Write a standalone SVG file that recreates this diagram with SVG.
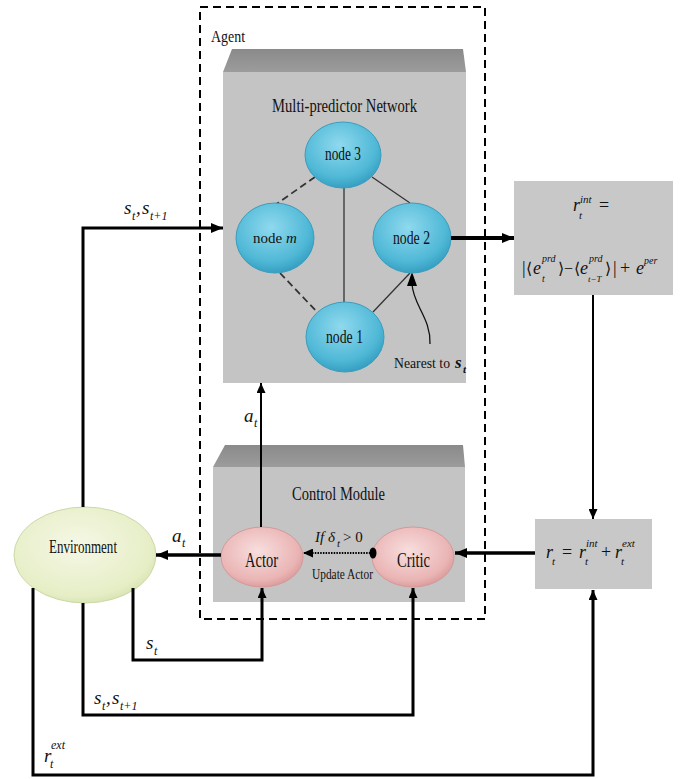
<svg xmlns="http://www.w3.org/2000/svg" width="686" height="779" viewBox="0 0 686 779">
<defs>
<style>
.lbl{font-family:"Liberation Serif","Times New Roman",serif;fill:#111;}
.m{font-family:"Liberation Serif","Times New Roman",serif;font-style:italic;fill:#111;}
.up{font-style:normal;}
.front{fill:#c4c4c4;}
.box{fill:#c8c8c8;}
.conn{fill:none;stroke:#000;stroke-linejoin:miter;}
.nedge{stroke:#333;stroke-width:1.3;fill:none;}
.ndash{stroke:#333;stroke-width:1.8;stroke-dasharray:7,4;fill:none;}
</style>
<radialGradient id="gBlue" cx="0.45" cy="0.35" r="0.7">
<stop offset="0" stop-color="#8fd9ee"/><stop offset="0.7" stop-color="#4fb8d6"/><stop offset="1" stop-color="#2f97bb"/>
</radialGradient>
<radialGradient id="gPink" cx="0.45" cy="0.4" r="0.7">
<stop offset="0" stop-color="#f8dede"/><stop offset="0.7" stop-color="#eab4b4"/><stop offset="1" stop-color="#cf8a8a"/>
</radialGradient>
<radialGradient id="gGreen" cx="0.45" cy="0.4" r="0.7">
<stop offset="0" stop-color="#f5f8e6"/><stop offset="0.75" stop-color="#e6eec6"/><stop offset="1" stop-color="#cddca2"/>
</radialGradient>
<linearGradient id="gTop" x1="0" y1="0" x2="0" y2="1">
<stop offset="0" stop-color="#8a8a8a"/><stop offset="1" stop-color="#9c9c9c"/>
</linearGradient>
<marker id="ah" markerUnits="userSpaceOnUse" markerWidth="12" markerHeight="10" refX="12" refY="5" orient="auto">
<path d="M0,0 L12,5 L0,10 z" fill="#000"/>
</marker>
<marker id="ahs" markerUnits="userSpaceOnUse" markerWidth="10" markerHeight="9" refX="10" refY="4.5" orient="auto">
<path d="M0,0 L10,4.5 L0,9 z" fill="#000"/>
</marker>
</defs>

<rect width="686" height="779" fill="#fff"/>

<g id="agent">
<rect x="200" y="7" width="285" height="612" fill="none" stroke="#000" stroke-width="2" stroke-dasharray="8,5"/>
<text class="lbl" x="211" y="42" font-size="17" textLength="34" lengthAdjust="spacingAndGlyphs">Agent</text>
</g>

<g id="multi-predictor">
<polygon points="232,49 463,49 466,72 223,72" fill="url(#gTop)"/>
<rect class="front" x="223" y="72" width="243" height="311"/>
<text class="lbl" x="272" y="112" font-size="19" textLength="145" lengthAdjust="spacingAndGlyphs">Multi-predictor Network</text>
</g>

<g id="control-module">
<polygon points="225,445 463,445 465,467 213,467" fill="url(#gTop)"/>
<rect class="front" x="213" y="467" width="252" height="135"/>
<text class="lbl" x="292" y="500" font-size="18" textLength="93" lengthAdjust="spacingAndGlyphs">Control Module</text>
</g>

<g id="node-edges">
<line class="ndash" x1="315" y1="177" x2="275" y2="205"/>
<line class="ndash" x1="280" y1="273" x2="318" y2="313"/>
<line class="nedge" x1="344" y1="187" x2="344" y2="303"/>
<line class="nedge" x1="372" y1="177" x2="410" y2="203"/>
<line class="nedge" x1="373" y1="312" x2="410" y2="273"/>
<path d="M430,344 C431,318 413,305 412,284" fill="none" stroke="#111" stroke-width="1.3"/>
<path d="M407,286 L412,272 L417,286 z" fill="#000"/>
</g>

<g id="node3">
<ellipse cx="343" cy="155" rx="38" ry="33" fill="url(#gBlue)" stroke="#3a9dbd" stroke-width="1"/>
<text class="lbl" x="325" y="160" font-size="18" textLength="36" lengthAdjust="spacingAndGlyphs">node 3</text>
</g>
<g id="nodem">
<ellipse cx="275" cy="238" rx="39" ry="35" fill="url(#gBlue)" stroke="#3a9dbd" stroke-width="1"/>
<text class="lbl" x="275" y="243" font-size="15" text-anchor="middle">node <tspan font-style="italic">m</tspan></text>
</g>
<g id="node2">
<ellipse cx="412" cy="238" rx="39" ry="35" fill="url(#gBlue)" stroke="#3a9dbd" stroke-width="1"/>
<text class="lbl" x="393" y="244" font-size="18" textLength="37" lengthAdjust="spacingAndGlyphs">node 2</text>
</g>
<g id="node1">
<ellipse cx="345" cy="337" rx="39" ry="35" fill="url(#gBlue)" stroke="#3a9dbd" stroke-width="1"/>
<text class="lbl" x="326" y="343" font-size="18" textLength="37" lengthAdjust="spacingAndGlyphs">node 1</text>
</g>

<g id="nearest-label">
<text class="lbl" x="394" y="368" font-size="15" textLength="56" lengthAdjust="spacingAndGlyphs">Nearest to</text>
<text class="m" x="455" y="368" font-size="17" font-weight="bold">s</text>
<text class="m" x="463" y="373" font-size="11" font-weight="bold">t</text>
</g>

<g id="r-int">
<rect class="box" x="514" y="181" width="159" height="114"/>
<text class="m" x="573" y="211" font-size="18">r</text>
<text class="m" x="580" y="203" font-size="11">int</text>
<text class="m" x="579" y="219" font-size="11">t</text>
<text class="m up" x="599" y="211" font-size="18">=</text>
<text class="m up" x="522" y="274" font-size="18">|</text>
<text class="m up" x="526" y="274" font-size="16">⟨</text>
<text class="m" x="533" y="274" font-size="18">e</text>
<text class="m" x="542" y="262" font-size="10">prd</text>
<text class="m" x="542" y="282" font-size="10">t</text>
<text class="m up" x="558" y="274" font-size="16">⟩</text>
<text class="m up" x="564" y="274" font-size="16">−</text>
<text class="m up" x="574" y="274" font-size="16">⟨</text>
<text class="m" x="580" y="274" font-size="18">e</text>
<text class="m" x="589" y="262" font-size="10">prd</text>
<text class="m" x="588" y="282" font-size="9">t−T</text>
<text class="m up" x="605" y="274" font-size="16">⟩</text>
<text class="m up" x="613" y="274" font-size="18">|</text>
<text class="m up" x="620" y="274" font-size="18">+</text>
<text class="m" x="636" y="274" font-size="18">e</text>
<text class="m" x="644" y="264" font-size="10">per</text>
</g>

<g id="r-total">
<rect class="box" x="535" y="519" width="117" height="70"/>
<text class="m" x="546" y="558" font-size="18">r</text>
<text class="m" x="552" y="565" font-size="11">t</text>
<text class="m up" x="562" y="558" font-size="18">=</text>
<text class="m" x="579" y="558" font-size="18">r</text>
<text class="m" x="586" y="547" font-size="11">int</text>
<text class="m" x="585" y="565" font-size="11">t</text>
<text class="m up" x="601" y="558" font-size="18">+</text>
<text class="m" x="615" y="558" font-size="18">r</text>
<text class="m" x="622" y="547" font-size="11">ext</text>
<text class="m" x="621" y="565" font-size="11">t</text>
</g>

<g id="actor">
<ellipse cx="262" cy="557" rx="41" ry="30" fill="url(#gPink)" stroke="#d39a9a" stroke-width="1"/>
<text class="lbl" x="245" y="567" font-size="20" textLength="33" lengthAdjust="spacingAndGlyphs">Actor</text>
</g>
<g id="critic">
<ellipse cx="413" cy="557" rx="41" ry="30" fill="url(#gPink)" stroke="#d39a9a" stroke-width="1"/>
<text class="lbl" x="397" y="567" font-size="20" textLength="33" lengthAdjust="spacingAndGlyphs">Critic</text>
</g>

<g id="environment">
<ellipse cx="85" cy="555" rx="71" ry="48" fill="url(#gGreen)" stroke="#cbd8a8" stroke-width="1"/>
<text class="lbl" x="49" y="553" font-size="18" textLength="68" lengthAdjust="spacingAndGlyphs">Environment</text>
</g>

<g id="connectors">
<path class="conn" d="M83,507 V228 H223" stroke-width="3" marker-end="url(#ah)"/>
<path class="conn" d="M451,238 H514" stroke-width="4" marker-end="url(#ah)"/>
<path class="conn" d="M593,295 V519" stroke-width="2" marker-end="url(#ahs)"/>
<path class="conn" d="M535,553 H455" stroke-width="3.5" marker-end="url(#ah)"/>
<path class="conn" d="M221,555 H156" stroke-width="3.5" marker-end="url(#ah)"/>
<path class="conn" d="M261,527 V383" stroke-width="2" marker-end="url(#ahs)"/>
<path class="conn" d="M373,553 H303" stroke-width="2.2" stroke-dasharray="1.5,1.2" marker-end="url(#ahs)"/>
<ellipse cx="373" cy="553" rx="3.5" ry="5.5" fill="#000"/>
<path class="conn" d="M133,588 V660 H262 V588" stroke-width="3" marker-end="url(#ahs)"/>
<path class="conn" d="M83,603 V715 H413 V588" stroke-width="3" marker-end="url(#ahs)"/>
<path class="conn" d="M33,588 V775 H593 V590" stroke-width="3" marker-end="url(#ahs)"/>
</g>

<g id="connector-labels">
<text class="m" x="124" y="214" font-size="19">s</text>
<text class="m" x="132" y="220" font-size="12">t</text>
<text class="m" x="136" y="214" font-size="19">,</text>
<text class="m" x="142" y="214" font-size="19">s</text>
<text class="m" x="150" y="220" font-size="12">t+1</text>

<text class="m" x="244" y="422" font-size="19">a</text>
<text class="m" x="254" y="427" font-size="12">t</text>

<text class="m" x="172" y="542" font-size="19">a</text>
<text class="m" x="182" y="547" font-size="12">t</text>

<text class="m" x="315" y="542" font-size="15">If δ</text>
<text class="m" x="337" y="547" font-size="11">t</text>
<text class="lbl" x="343" y="542" font-size="15">&gt; 0</text>
<text class="lbl" x="312" y="579" font-size="15" textLength="61" lengthAdjust="spacingAndGlyphs">Update Actor</text>

<text class="m" x="146" y="649" font-size="19">s</text>
<text class="m" x="154" y="655" font-size="12">t</text>

<text class="m" x="94" y="704" font-size="19">s</text>
<text class="m" x="102" y="710" font-size="12">t</text>
<text class="m" x="106" y="704" font-size="19">,</text>
<text class="m" x="112" y="704" font-size="19">s</text>
<text class="m" x="120" y="710" font-size="12">t+1</text>

<text class="m" x="44" y="762" font-size="19">r</text>
<text class="m" x="51" y="749" font-size="12">ext</text>
<text class="m" x="50" y="768" font-size="12">t</text>
</g>
</svg>
